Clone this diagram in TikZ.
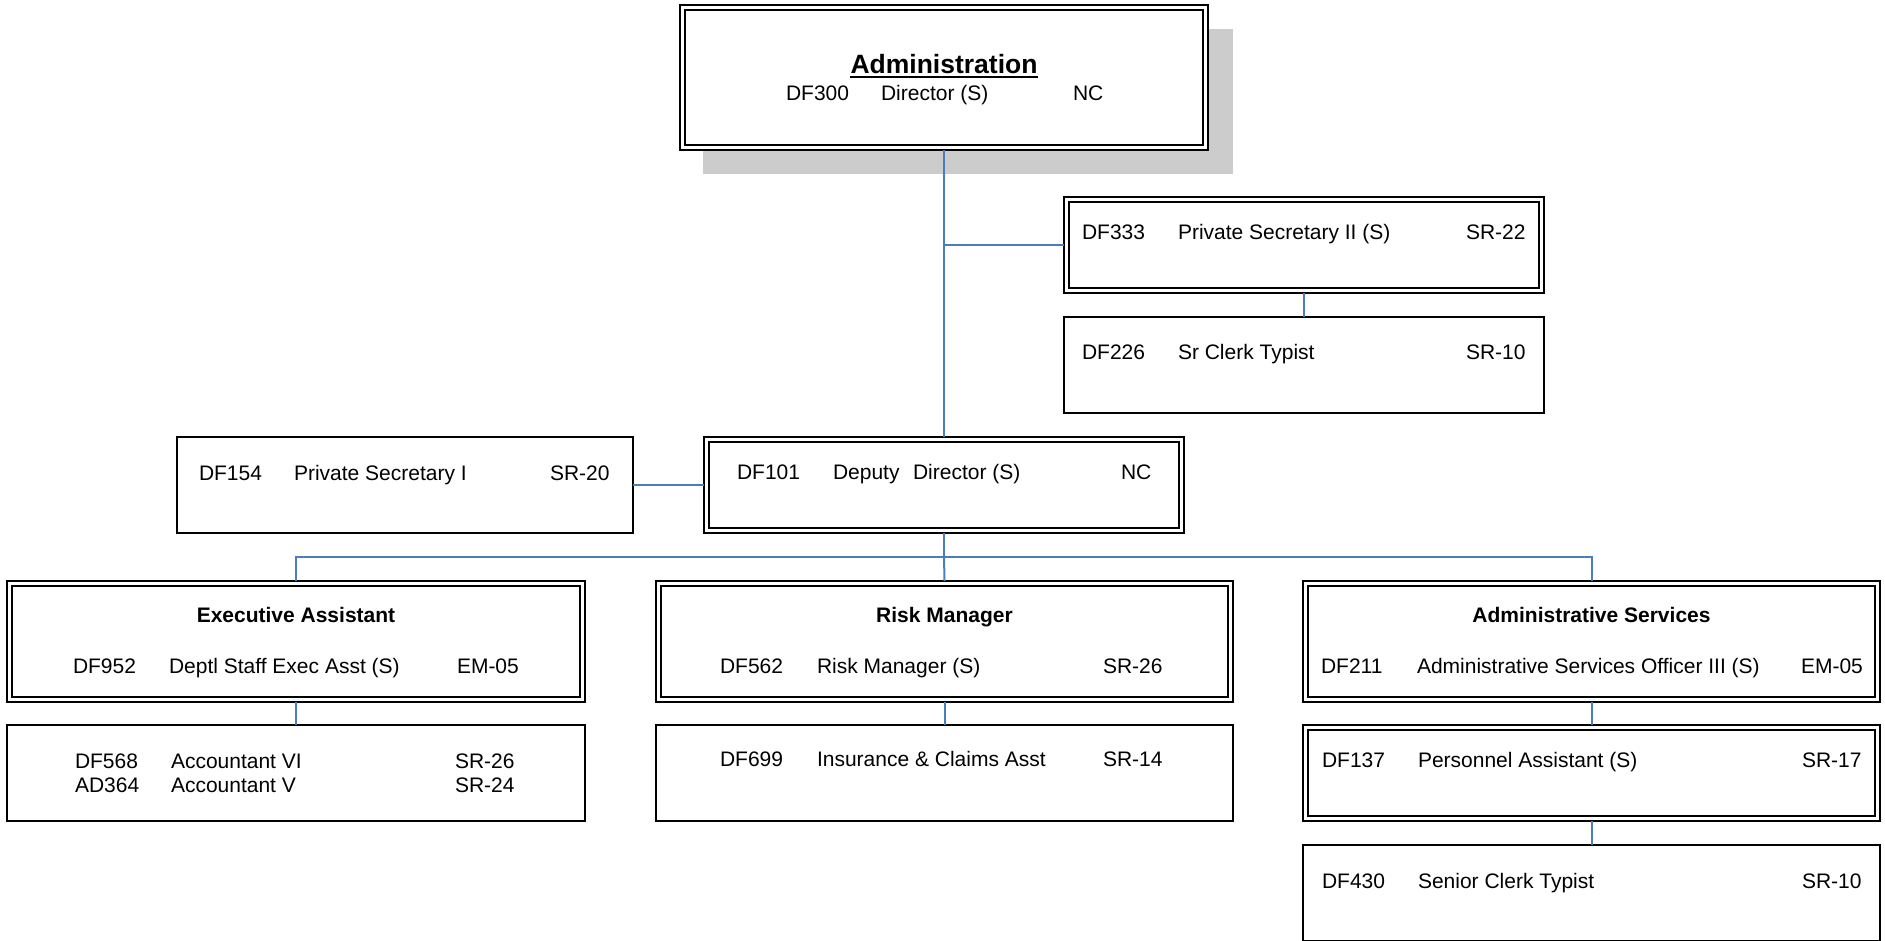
\documentclass[tikz,border=0pt]{standalone}
\usepackage{fontspec}
\setmainfont{Liberation Sans}
\definecolor{connblue}{RGB}{74,126,187}
\definecolor{shadowgray}{RGB}{204,204,204}
\tikzset{
  sbox/.style={draw=black, fill=white, line width=2pt, rectangle, inner sep=0pt, outer sep=0pt},
  dbox/.style={draw=black, fill=white, line width=1.3pt, rectangle, inner sep=0pt, outer sep=0pt},
  conn/.style={draw=connblue, line width=2pt},
  txt/.style={anchor=base west, inner sep=0pt, outer sep=0pt, font=\fontsize{21}{25}\selectfont},
  ttl/.style={anchor=base, inner sep=0pt, outer sep=0pt, font=\fontsize{21}{25}\selectfont\bfseries},
}
\newcommand\innerline[1]{\draw[line width=2.2pt] ([shift={(5,5)}]#1.north west) rectangle ([shift={(-5,-5)}]#1.south east);}
\begin{document}
\begin{tikzpicture}[x=1pt,y=-1pt]
\useasboundingbox (0,0) rectangle (1885,940);
\clip (0,0) rectangle (1885,940);
% shadow of top box
\fill[shadowgray] (703,29) rectangle (1233,174);
% boxes
\node[dbox, minimum width=528pt, minimum height=145pt] (adm) at (944,77.5) {};
\node[dbox, minimum width=480pt, minimum height=96pt] (ps2) at (1304,245) {};
\node[sbox, minimum width=480pt, minimum height=96pt] (sct) at (1304,365) {};
\node[sbox, minimum width=456pt, minimum height=96pt] (ps1) at (405,485) {};
\node[dbox, minimum width=480pt, minimum height=96pt] (dep) at (944,485) {};
\node[dbox, minimum width=578pt, minimum height=121pt] (exe) at (296,641.5) {};
\node[dbox, minimum width=577pt, minimum height=121pt] (rsk) at (944.5,641.5) {};
\node[dbox, minimum width=577pt, minimum height=121pt] (asv) at (1591.5,641.5) {};
\node[sbox, minimum width=578pt, minimum height=96pt] (acc) at (296,773) {};
\node[sbox, minimum width=577pt, minimum height=96pt] (ins) at (944.5,773) {};
\node[dbox, minimum width=577pt, minimum height=96pt] (per) at (1591.5,773) {};
\node[sbox, minimum width=577pt, minimum height=96pt] (sen) at (1591.5,893) {};
\innerline{adm}
\innerline{ps2}
\innerline{dep}
\innerline{exe}
\innerline{rsk}
\innerline{asv}
\innerline{per}
% connectors
\coordinate (br) at (944,245);
\coordinate (bus) at (944,557);
\draw[conn] (adm.south) -- (dep.north);
\draw[conn] (br) -- (ps2.west);
\draw[conn] (ps2.south) -- (sct.north);
\draw[conn] (ps1.east) -- (dep.west);
\draw[conn] (dep.south) -- (bus);
\draw[conn] (exe.north) |- (bus) -| (asv.north);
\draw[conn] (bus) -- (rsk.north);
\draw[conn] (exe.south) -- (acc.north);
\draw[conn] (rsk.south) -- (ins.north);
\draw[conn] (asv.south) -- (per.north);
\draw[conn] (per.south) -- (sen.north);
% texts: Administration
\node[anchor=base, inner sep=0pt, font=\fontsize{26.5}{30}\selectfont\bfseries] (admt) at (944,73) {Administration};
\draw[line width=2pt] ([yshift=-4pt]admt.base west) -- ([yshift=-4pt]admt.base east);
\node[txt] (t300a) at (786,100) {DF300};
\node[txt] (t300b) at (881,100) {Director (S)};
\node[txt] (t300c) at (1073,100) {NC};
% DF333
\node[txt] (t333a) at (1082,239) {DF333};
\node[txt] (t333b) at (1178,239) {Private Secretary II (S)};
\node[txt] (t333c) at (1466,239) {SR-22};
% DF226
\node[txt] (t226a) at (1082,359) {DF226};
\node[txt] (t226b) at (1178,359) {Sr Clerk Typist};
\node[txt] (t226c) at (1466,359) {SR-10};
% DF154
\node[txt] (t154a) at (199,480) {DF154};
\node[txt] (t154b) at (294,480) {Private Secretary I};
\node[txt] (t154c) at (550,480) {SR-20};
% DF101
\node[txt] (t101a) at (737,479) {DF101};
\node[txt] (t101b) at (833,479) {Deputy};
\node[txt] (t101c) at (913,479) {Director (S)};
\node[txt] (t101d) at (1121,479) {NC};
% Executive Assistant
\node[ttl] (exet) at (296,622) {Executive Assistant};
\node[txt] (t952a) at (73,673) {DF952};
\node[txt] (t952b) at (169,673) {Deptl Staff Exec Asst (S)};
\node[txt] (t952c) at (457,673) {EM-05};
% Risk Manager
\node[ttl] (rskt) at (944.5,622) {Risk Manager};
\node[txt] (t562a) at (720,673) {DF562};
\node[txt] (t562b) at (817,673) {Risk Manager (S)};
\node[txt] (t562c) at (1103,673) {SR-26};
% Administrative Services
\node[ttl] (asvt) at (1591.5,622) {Administrative Services};
\node[txt] (t211a) at (1321,673) {DF211};
\node[txt] (t211b) at (1417,673) {Administrative Services Officer III (S)};
\node[txt] (t211c) at (1801,673) {EM-05};
% Accountants
\node[txt] (t568a) at (75,768) {DF568};
\node[txt] (t568b) at (171,768) {Accountant VI};
\node[txt] (t568c) at (455,768) {SR-26};
\node[txt] (t364a) at (75,792) {AD364};
\node[txt] (t364b) at (171,792) {Accountant V};
\node[txt] (t364c) at (455,792) {SR-24};
% DF699
\node[txt] (t699a) at (720,766) {DF699};
\node[txt] (t699b) at (817,766) {Insurance \& Claims Asst};
\node[txt] (t699c) at (1103,766) {SR-14};
% DF137
\node[txt] (t137a) at (1322,767) {DF137};
\node[txt] (t137b) at (1418,767) {Personnel Assistant (S)};
\node[txt] (t137c) at (1802,767) {SR-17};
% DF430
\node[txt] (t430a) at (1322,888) {DF430};
\node[txt] (t430b) at (1418,888) {Senior Clerk Typist};
\node[txt] (t430c) at (1802,888) {SR-10};
\end{tikzpicture}
\end{document}
